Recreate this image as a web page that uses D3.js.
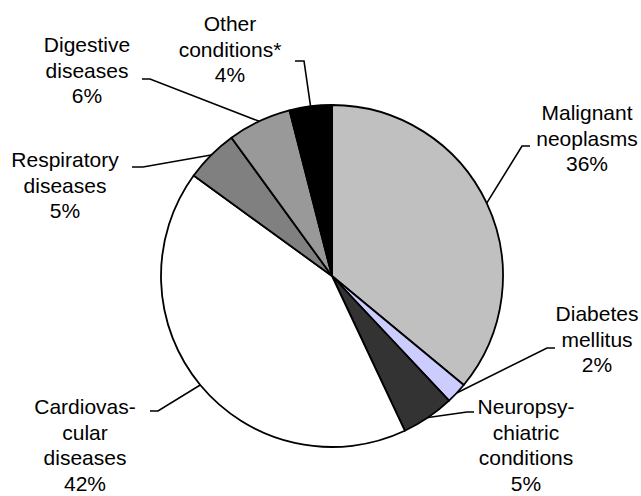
<!DOCTYPE html>
<html>
<head>
<meta charset="utf-8">
<script src="https://cdn.jsdelivr.net/npm/d3@7"></script>
<style>
  body { margin: 0; background: #fff; }
  text { font-family: "Liberation Sans", Arial, sans-serif; font-size: 21px; fill: #000; }
</style>
</head>
<body>
<div class="output"></div>
<script>
// Data
const causes = ["Malignant neoplasms", "Diabetes mellitus", "Neuropsychiatric conditions",
    "Cardiovascular diseases", "Respiratory diseases", "Digestive diseases", "Other conditions*"];
const shares = [36, 2, 5, 42, 5, 6, 4];
const labelLines = [
    ["Malignant", "neoplasms"],
    ["Diabetes", "mellitus"],
    ["Neuropsy-", "chiatric", "conditions"],
    ["Cardiovas-", "cular", "diseases"],
    ["Respiratory", "diseases"],
    ["Digestive", "diseases"],
    ["Other", "conditions*"]
];

// Palette
const colors = ["#c0c0c0", "#ccccff", "#333333", "#ffffff", "#808080", "#999999", "#000000"];

// Label layout: text centre, first baseline, elbow of leader, end of leader
const labelPos = [
    { x: 587, y: 120, ex: 522, ey: 146, tx: 530 },
    { x: 597, y: 321, ex: 547, ey: 348, tx: 555 },
    { x: 526, y: 414, ex: 467, ey: 412, tx: 474 },
    { x: 85,  y: 414, ex: 158, ey: 411, tx: 150 },
    { x: 65,  y: 167, ex: 143, ey: 167, tx: 132 },
    { x: 87,  y: 52,  ex: 150, ey: 79,  tx: 142 },
    { x: 230, y: 31,  ex: 304, ey: 61,  tx: 295 }
];

const width = 641, height = 496;
const cx = 332, cy = 276, r = 171;
const lineH = 25.7;

const svg = d3.select(".output")
    .append("svg")
    .attr("width", width)
    .attr("height", height);

svg.append("rect")
    .attr("width", width)
    .attr("height", height)
    .attr("fill", "#fff");

const pie = d3.pie().sort(null).value((d) => d);
const arcs = pie(shares);

const arc = d3.arc().innerRadius(0).outerRadius(r);
const edge = d3.arc().innerRadius(r).outerRadius(r);

const g = svg.append("g")
    .attr("transform", "translate(" + cx + "," + cy + ")");

// Slices
g.selectAll("path.slice")
    .data(arcs)
    .enter()
    .append("path")
    .attr("class", "slice")
    .attr("d", arc)
    .attr("fill", (d, i) => colors[i])
    .attr("stroke", "#000")
    .attr("stroke-width", 1.8)
    .attr("stroke-linejoin", "round");

// Leader lines
g.selectAll("path.leader")
    .data(arcs)
    .enter()
    .append("path")
    .attr("class", "leader")
    .attr("d", (d, i) => {
        let p = edge.centroid(d);
        let l = labelPos[i];
        return d3.line()([p, [l.ex - cx, l.ey - cy], [l.tx - cx, l.ey - cy]]);
    })
    .attr("fill", "none")
    .attr("stroke", "#000")
    .attr("stroke-width", 1.6);

// Labels
const labels = svg.selectAll("text.label")
    .data(arcs)
    .enter()
    .append("text")
    .attr("class", "label")
    .attr("text-anchor", "middle")
    .attr("x", (d, i) => labelPos[i].x)
    .attr("y", (d, i) => labelPos[i].y);

labels.each(function (d, i) {
    let t = d3.select(this);
    let lines = labelLines[i].concat([d.data + "%"]);
    lines.forEach((s, k) => {
        t.append("tspan")
            .attr("x", labelPos[i].x)
            .attr("y", labelPos[i].y + k * lineH)
            .text(s);
    });
});
</script>
</body>
</html>
